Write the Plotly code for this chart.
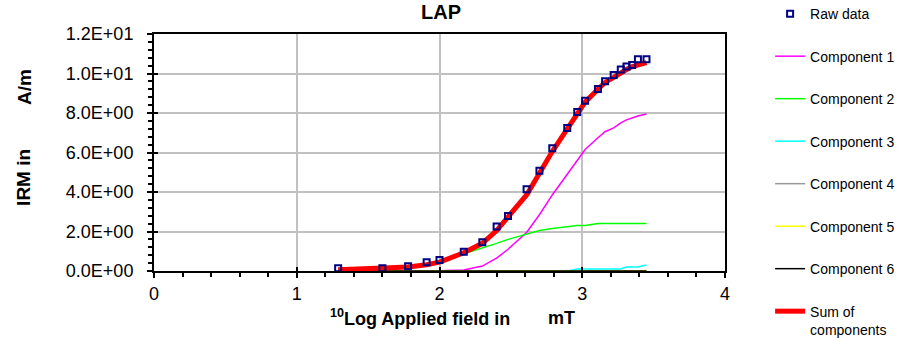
import plotly.graph_objects as go

# ---- data (log10 of applied field in mT) ----
log_field = [1.29, 1.60, 1.78, 1.91, 2.00, 2.17, 2.30, 2.40, 2.48, 2.61, 2.70, 2.79,
             2.895, 2.965, 3.02, 3.11, 3.16, 3.22, 3.27, 3.31, 3.35, 3.39, 3.45]
raw_data = [0.14, 0.14, 0.24, 0.44, 0.56, 0.97, 1.46, 2.25, 2.78, 4.14, 5.07, 6.21,
            7.24, 8.05, 8.62, 9.21, 9.61, 9.92, 10.20, 10.35, 10.43, 10.72, 10.72]
component_1 = [0.0, 0.0, 0.0, 0.0, 0.01, 0.05, 0.25, 0.65, 1.10, 1.95, 2.85, 3.85,
               4.90, 5.55, 6.15, 6.75, 7.05, 7.25, 7.50, 7.65, 7.75, 7.85, 7.95]
component_2 = [0.06, 0.12, 0.20, 0.32, 0.44, 0.87, 1.15, 1.40, 1.60, 1.85, 2.05, 2.15,
               2.25, 2.30, 2.30, 2.40, 2.40, 2.40, 2.40, 2.40, 2.40, 2.40, 2.40]
component_3 = [0.0, 0.0, 0.0, 0.0, 0.0, 0.0, 0.0, 0.0, 0.0, 0.0, 0.0, 0.0,
               0.0, 0.10, 0.10, 0.10, 0.10, 0.10, 0.10, 0.20, 0.20, 0.20, 0.30]
component_4 = [0.0] * 23
component_5 = [0.0] * 23
component_6 = [0.0] * 23
sum_components = [0.06, 0.12, 0.20, 0.32, 0.45, 0.92, 1.40, 2.05, 2.70, 3.85, 4.95, 6.05,
                  7.20, 7.95, 8.55, 9.20, 9.55, 9.80, 10.05, 10.20, 10.35, 10.45, 10.55]

y_tickvals = [0, 2, 4, 6, 8, 10, 12]
y_ticktext = ["0.0E+00", "2.0E+00", "4.0E+00", "6.0E+00", "8.0E+00", "1.0E+01", "1.2E+01"]
x_tickvals = [0, 1, 2, 3, 4]
x_ticktext = ["0", "1", "2", "3", "4"]

FONT = "Liberation Sans, Arial, sans-serif"

fig = go.Figure()

comps = [
    ("Component 1", component_1, "#ff00ff"),
    ("Component 2", component_2, "#00ff00"),
    ("Component 3", component_3, "#00ffff"),
    ("Component 4", component_4, "#999999"),
    ("Component 5", component_5, "#ffff00"),
    ("Component 6", component_6, "#000000"),
]
for i, (name, vals, col) in enumerate(comps):
    fig.add_trace(go.Scatter(x=log_field, y=vals, mode="lines", name=name,
                             line=dict(color=col, width=1.5),
                             legendgroup=name, legendrank=2 + i))

fig.add_trace(go.Scatter(x=log_field, y=sum_components, mode="lines",
                         name="Sum of<br>components",
                         line=dict(color="#ff0000", width=5),
                         legendgroup="sum", legendrank=10))

fig.add_trace(go.Scatter(x=log_field, y=raw_data, mode="markers", name="Raw data",
                         marker=dict(symbol="square-open", size=6, color="#000080",
                                     line=dict(width=2, color="#000080")),
                         legendgroup="raw", legendrank=1))

# invisible trace on overlay axes to get crossing ticks
fig.add_trace(go.Scatter(x=[0], y=[0], xaxis="x2", yaxis="y2", mode="markers",
                         marker=dict(opacity=0), showlegend=False, hoverinfo="skip"))

fig.update_layout(
    width=906, height=338,
    margin=dict(l=154, r=181, t=34, b=67, autoexpand=False),
    paper_bgcolor="white", plot_bgcolor="white",
    font=dict(family=FONT, color="black", size=18),
    showlegend=True,
    legend=dict(x=1.079, xref="paper", y=1.1516, yanchor="top", xanchor="left",
                font=dict(size=14, family=FONT, color="black"),
                traceorder="grouped", tracegroupgap=21.3, valign="top",
                maxheight=600,
                bgcolor="rgba(0,0,0,0)", borderwidth=0),
    xaxis=dict(range=[0, 4], tickvals=x_tickvals, ticktext=x_ticktext,
               showgrid=True, gridcolor="#c0c0c0", gridwidth=1.5,
               showline=True, linecolor="black", linewidth=2, mirror=True,
               ticks="outside", ticklen=5, tickwidth=2, tickcolor="black",
               minor=dict(dtick=0.2, ticks="outside", ticklen=4, tickwidth=1.5,
                          tickcolor="black", showgrid=False),
               tickfont=dict(size=18), ticklabelstandoff=0, zeroline=False),
    yaxis=dict(range=[0, 12], tickvals=y_tickvals, ticktext=y_ticktext,
               showgrid=True, gridcolor="#c0c0c0", gridwidth=1.5,
               showline=True, linecolor="black", linewidth=2, mirror=True,
               ticks="outside", ticklen=5, tickwidth=2, tickcolor="black",
               minor=dict(dtick=0.4, ticks="outside", ticklen=4, tickwidth=1.5,
                          tickcolor="black", showgrid=False),
               tickfont=dict(size=18), ticklabelstandoff=10, zeroline=False),
    xaxis2=dict(range=[0, 4], overlaying="x", tickvals=x_tickvals, showticklabels=False,
                ticks="inside", ticklen=4, tickwidth=2, tickcolor="black",
                showgrid=False, zeroline=False, showline=False),
    yaxis2=dict(range=[0, 12], overlaying="y", tickvals=y_tickvals, showticklabels=False,
                ticks="inside", ticklen=4, tickwidth=2, tickcolor="black",
                showgrid=False, zeroline=False, showline=False),
)

annots = [
    dict(text="<b>LAP</b>", x=0.5026, y=1.093, font=dict(size=20)),
    dict(text="<b><sup>10</sup>Log Applied field in</b>", x=0.466, y=-0.198,
         font=dict(size=18)),
    dict(text="<b>mT</b>", x=0.7145, y=-0.198, font=dict(size=18)),
    dict(text="<b>IRM in</b>", x=-0.2277, y=0.397, textangle=-90, font=dict(size=19)),
    dict(text="<b>A/m</b>", x=-0.2277, y=0.776, textangle=-90, font=dict(size=19)),
]
for a in annots:
    fig.add_annotation(xref="paper", yref="paper", showarrow=False,
                       xanchor="center", yanchor="middle", **a)

fig.write_html("out.html")
